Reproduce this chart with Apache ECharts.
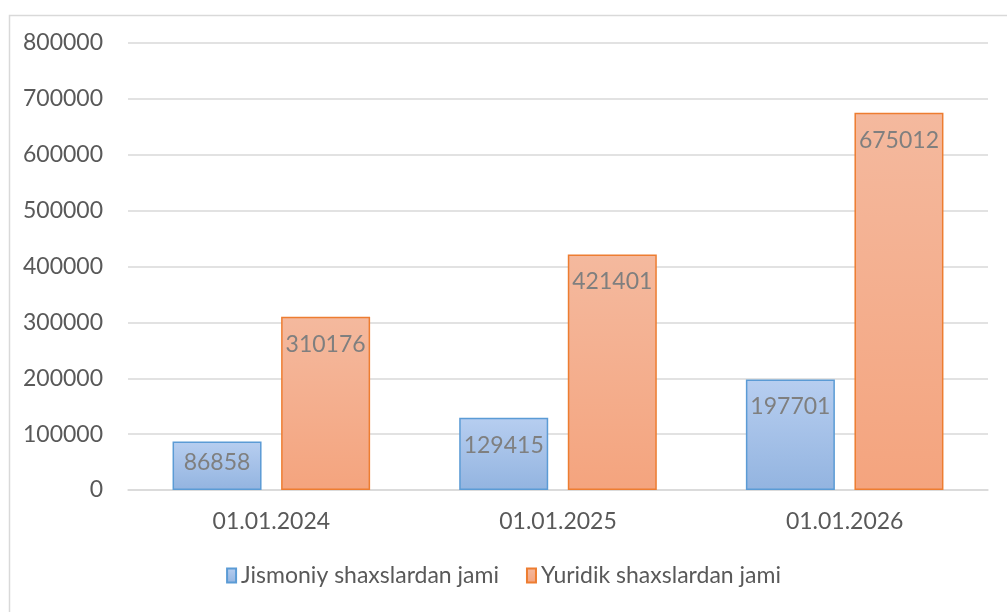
<!DOCTYPE html>
<html>
<head>
<meta charset="utf-8">
<script src="https://cdn.jsdelivr.net/npm/echarts@6/dist/echarts.min.js"></script>
<style>
  html, body { margin: 0; padding: 0; background: #fff; }
  #chart { width: 1007px; height: 612px; }
</style>
</head>
<body>
<div id="chart"></div>
<script>
// sanalar
const categories = ['01.01.2024', '01.01.2025', '01.01.2026'];
const jismoniy = [86858, 129415, 197701];
const yuridik = [310176, 421401, 675012];
const seriesNames = ['Jismoniy shaxslardan jami', 'Yuridik shaxslardan jami'];

const font = 'Lato, "Open Sans", sans-serif';

function grad(top, bottom) {
  return {
    type: 'linear', x: 0, y: 0, x2: 0, y2: 1,
    colorStops: [
      { offset: 0, color: top },
      { offset: 1, color: bottom }
    ]
  };
}

const chart = echarts.init(document.getElementById('chart'));
chart.setOption({
  animation: false,
  textStyle: { fontFamily: font },
  graphic: [
    {
      type: 'rect',
      left: 7, top: 13,
      shape: { width: 1010, height: 610 },
      style: { fill: 'none', stroke: '#d9d9d9', lineWidth: 1.5 },
      silent: true
    }
  ],
  grid: { left: 128, right: 19, top: 43, bottom: 122, containLabel: false },
  legend: {
    bottom: 20,
    left: 'center',
    icon: 'rect',
    itemWidth: 9,
    itemHeight: 14,
    itemGap: 27,
    textStyle: { fontSize: 23, color: '#595959', fontFamily: font },
    data: seriesNames
  },
  xAxis: {
    type: 'category',
    data: categories,
    axisLine: { lineStyle: { color: '#d9d9d9', width: 1.5 } },
    axisTick: { show: false },
    axisLabel: { fontSize: 23, color: '#595959', margin: 20, fontFamily: font }
  },
  yAxis: {
    type: 'value',
    min: 0, max: 800000, interval: 100000,
    axisLine: { show: false },
    axisTick: { show: false },
    splitLine: { lineStyle: { color: '#d9d9d9', width: 1.5 } },
    axisLabel: {
      fontSize: 23, color: '#595959', margin: 25, fontFamily: font,
      formatter: function (v) { return String(v); }
    }
  },
  series: [
    {
      name: seriesNames[0],
      type: 'bar',
      // birinchi ustun past, yorliq yuqoriroq
      data: jismoniy.map((v, i) => (i === 0 ? { value: v, label: { distance: 10 } } : v)),
      barWidth: 89,
      barGap: '22%',
      itemStyle: {
        color: grad('#b7cef0', '#93b4e0'),
        borderColor: '#5b9bd5',
        borderWidth: 1.5
      },
      label: {
        show: true, position: 'insideTop', distance: 16,
        fontSize: 23, color: '#7f7f7f', fontFamily: font
      }
    },
    {
      name: seriesNames[1],
      type: 'bar',
      data: yuridik,
      barWidth: 89,
      itemStyle: {
        color: grad('#f4b99e', '#f4a47e'),
        borderColor: '#ed7d31',
        borderWidth: 1.5
      },
      label: {
        show: true, position: 'insideTop', distance: 16,
        fontSize: 23, color: '#7f7f7f', fontFamily: font
      }
    }
  ]
});
</script>
</body>
</html>
